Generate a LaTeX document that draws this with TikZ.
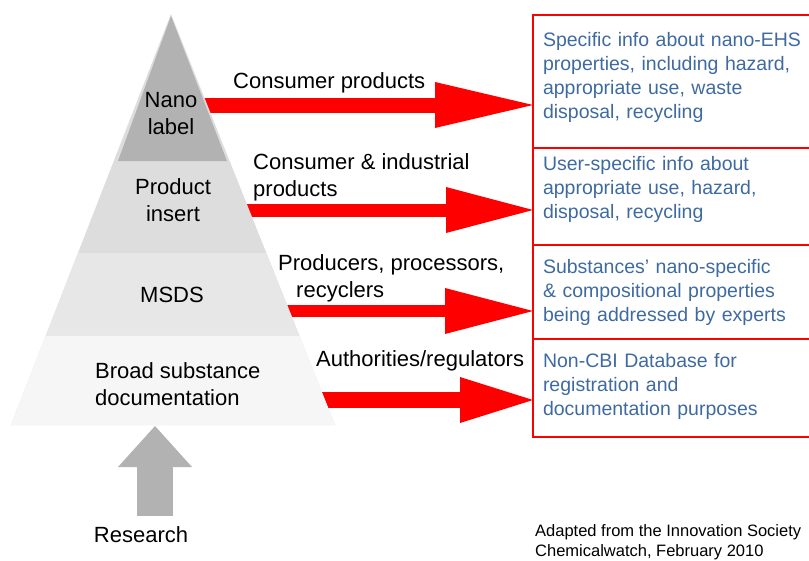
\documentclass[tikz,border=0pt]{standalone}
\usepackage{fontspec}
\setmainfont{Liberation Sans}
\usetikzlibrary{positioning,arrows.meta,calc}
\definecolor{infoblue}{RGB}{62,106,160}
\definecolor{nanogray}{RGB}{178,178,178}
\definecolor{insertgray}{RGB}{221,221,221}
\definecolor{msdsgray}{RGB}{231,231,231}
\definecolor{broadgray}{RGB}{246,246,246}
% extra depth under the last line of a box text
\newcommand{\padbelow}[1]{\rule[-#1]{0pt}{#1}}

\begin{document}
\begin{tikzpicture}[x=1pt, y=-1pt,
  infobox/.style={rectangle, draw=red, line width=1.5pt, outer sep=0pt, minimum width=290pt, text width=270pt, inner xsep=10pt, align=left, text=infoblue, font=\fontsize{19.5}{24}\selectfont},
  lbl/.style={inner sep=0pt, align=left, font=\fontsize{22}{27}\selectfont},
  layer/.style={inner sep=0pt, align=center, font=\fontsize{22}{27}\selectfont},
  redarrow/.style={red, -{Triangle[length=#1, width=46pt, line width=0pt]}}]
\useasboundingbox (0,0) rectangle (809,560);

% information boxes on the right
\node (bx1) [infobox, anchor=north west, minimum height=133pt] at (533,15) {Specific info about nano-EHS\\properties, including hazard,\\appropriate use, waste\\disposal, recycling\padbelow{12pt}};
\node (bx2) [infobox, minimum height=97pt, below=0pt of bx1] {User-specific info about\\appropriate use, hazard,\\disposal, recycling\padbelow{18pt}};
\node (bx3) [infobox, minimum height=94pt, below=0pt of bx2] {Substances’ nano-specific\\\& compositional properties\\being addressed by experts};
\node (bx4) [infobox, minimum height=98pt, below=0pt of bx3] {Non-CBI Database for\\registration and\\documentation purposes\padbelow{8pt}};

% red arrows start behind the pyramid
\coordinate (t1) at (190,105);
\coordinate (t2) at (220,210);
\coordinate (t3) at (260,311);
\coordinate (t4) at (300,400);
\draw[redarrow=98pt, line width=15pt] (t1) -- (bx1.west |- t1);
\draw[redarrow=87pt, line width=13pt] (t2) -- (bx2.west |- t2);
\draw[redarrow=88pt, line width=11.5pt] (t3) -- (bx3.west |- t3);
\draw[redarrow=73pt, line width=16pt] (t4) -- (bx4.west |- t4);

% pyramid
\coordinate (apex) at (171,14);
\coordinate (bl) at (11,425);
\coordinate (br) at (335,425);
\fill[insertgray] (apex) -- (bl) -- (br) -- cycle;
\fill[msdsgray] ($(apex)!0.582!(bl)$) -- ($(apex)!0.783!(bl)$) -- ($(apex)!0.783!(br)$) -- ($(apex)!0.582!(br)$) -- cycle;
\fill[broadgray] ($(apex)!0.783!(bl)$) -- (bl) -- (br) -- ($(apex)!0.783!(br)$) -- cycle;
\fill[nanogray] (171,16) -- (118,161) -- (227,161) -- cycle;

\node (nano) [layer] at (171,114) {Nano\\label};
\node (insert) [layer] at (173,200) {Product\\insert};
\node (msds) [layer] at (172,295) {MSDS};
\node (broad) [lbl, anchor=west] at (95,384) {Broad substance\\documentation};

% audiences
\node (cons) [lbl, anchor=west] at (233,83) {Consumer products};
\node (indus) [lbl, anchor=west] at (253,177) {Consumer \& industrial\\products};
\node (prod) [lbl, anchor=west] at (278,278) {Producers, processors,\\\hspace*{18pt}recyclers};
\node (auth) [lbl, anchor=west] at (316,361) {Authorities/regulators};

% research feeds the base
\coordinate (rbase) at (155,426);
\coordinate (rtail) at (155,516);
\draw[nanogray, line width=36pt, -{Triangle[length=41pt, width=74pt, line width=0pt]}] (rtail) -- (rbase);
\node (research) [layer] at (141,535) {Research};

\node (src) [inner sep=0pt, anchor=west, align=left, font=\fontsize{16.5}{20}\selectfont] at (535,542) {Adapted from the Innovation Society\\Chemicalwatch, February 2010};
\end{tikzpicture}
\end{document}
